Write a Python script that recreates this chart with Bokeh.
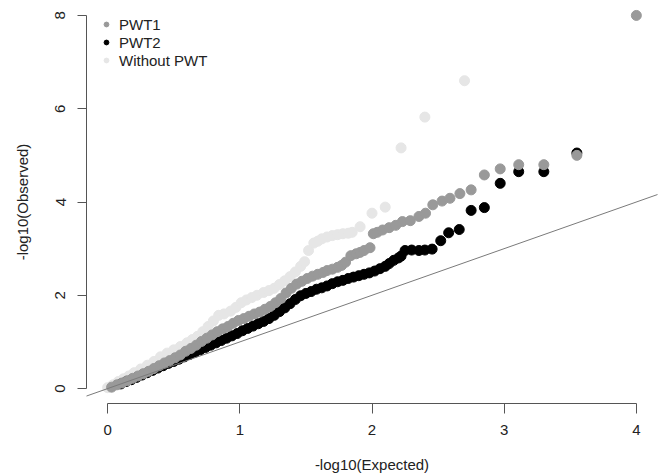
from bokeh.plotting import figure
from bokeh.models import Range1d, FixedTicker, Slope, Legend, LegendItem
from bokeh.embed import file_html
from bokeh.resources import INLINE

# ---------------- data ----------------
wo_x = [0.00, 0.04, 0.08, 0.12, 0.16, 0.20, 0.25, 0.30, 0.35, 0.40,
        0.45, 0.50, 0.55, 0.60, 0.64, 0.68, 0.72, 0.76, 0.80, 0.84,
        0.88, 0.93, 0.97, 1.01, 1.05, 1.09, 1.13, 1.18, 1.22, 1.26,
        1.30, 1.34, 1.38, 1.42, 1.46, 1.49, 1.52, 1.56, 1.59, 1.62,
        1.66, 1.70, 1.74, 1.78, 1.82, 1.85, 1.91, 2.00, 2.10, 2.22,
        2.40, 2.70]
wo_y = [0.02, 0.08, 0.15, 0.21, 0.27, 0.34, 0.42, 0.50, 0.58, 0.68,
        0.76, 0.83, 0.90, 0.98, 1.05, 1.12, 1.22, 1.33, 1.45, 1.57,
        1.60, 1.66, 1.74, 1.84, 1.90, 1.95, 2.00, 2.06, 2.10, 2.15,
        2.23, 2.31, 2.40, 2.50, 2.62, 2.72, 2.96, 3.12, 3.16, 3.21,
        3.25, 3.28, 3.30, 3.32, 3.33, 3.35, 3.47, 3.76, 3.89, 5.16,
        5.82, 6.60]

pwt1_x = [0.03, 0.07, 0.11, 0.15, 0.19, 0.23, 0.27, 0.31, 0.35, 0.39,
          0.43, 0.47, 0.51, 0.55, 0.59, 0.63, 0.67, 0.71, 0.75, 0.79,
          0.83, 0.87, 0.91, 0.95, 0.99, 1.03, 1.07, 1.11, 1.15, 1.19,
          1.23, 1.27, 1.31, 1.35, 1.39, 1.43, 1.47, 1.51, 1.55, 1.59,
          1.63, 1.66, 1.70, 1.74, 1.77, 1.80, 1.84, 1.88, 1.91, 1.94,
          1.985, 2.01, 2.04, 2.08, 2.13, 2.18, 2.23, 2.29, 2.355, 2.405,
          2.46, 2.53, 2.59, 2.665, 2.75, 2.85, 2.97, 3.11, 3.30, 3.55,
          4.00]
pwt1_y = [0.03, 0.08, 0.12, 0.17, 0.22, 0.27, 0.32, 0.37, 0.43, 0.49,
          0.55, 0.60, 0.66, 0.72, 0.80, 0.86, 0.93, 1.01, 1.08, 1.15,
          1.22, 1.28, 1.33, 1.40, 1.46, 1.50, 1.55, 1.60, 1.64, 1.70,
          1.76, 1.84, 1.93, 2.05, 2.15, 2.24, 2.30, 2.36, 2.41, 2.45,
          2.49, 2.53, 2.56, 2.60, 2.64, 2.71, 2.85, 2.89, 2.92, 2.96,
          3.02, 3.32, 3.35, 3.40, 3.45, 3.50, 3.58, 3.60, 3.69, 3.76,
          3.94, 4.02, 4.08, 4.18, 4.26, 4.58, 4.71, 4.80, 4.80, 5.00,
          8.00]

pwt2_x = [0.10, 0.14, 0.18, 0.22, 0.26, 0.30, 0.34, 0.38, 0.42, 0.46,
          0.50, 0.54, 0.58, 0.62, 0.66, 0.70, 0.74, 0.78, 0.82, 0.86,
          0.90, 0.94, 0.98, 1.02, 1.06, 1.10, 1.14, 1.18, 1.22, 1.26,
          1.30, 1.34, 1.38, 1.42, 1.46, 1.50, 1.54, 1.58, 1.62, 1.66,
          1.70, 1.74, 1.78, 1.82, 1.86, 1.90, 1.94, 1.98, 2.02, 2.06,
          2.10, 2.13, 2.165, 2.20, 2.22, 2.25, 2.30, 2.355, 2.40, 2.455,
          2.52, 2.58, 2.66, 2.75, 2.85, 2.97, 3.11, 3.30, 3.55]
pwt2_y = [0.10, 0.15, 0.19, 0.24, 0.29, 0.34, 0.39, 0.44, 0.49, 0.54,
          0.58, 0.63, 0.68, 0.73, 0.78, 0.83, 0.88, 0.93, 0.98, 1.03,
          1.08, 1.13, 1.18, 1.24, 1.29, 1.34, 1.39, 1.44, 1.50, 1.57,
          1.65, 1.73, 1.82, 1.91, 1.99, 2.04, 2.08, 2.13, 2.16, 2.20,
          2.25, 2.29, 2.32, 2.36, 2.39, 2.42, 2.45, 2.48, 2.52, 2.57,
          2.62, 2.68, 2.75, 2.80, 2.84, 2.96, 2.97, 2.96, 2.97, 2.99,
          3.17, 3.34, 3.41, 3.82, 3.88, 4.40, 4.65, 4.65, 5.05]

x_ticks = [0, 1, 2, 3, 4]
y_ticks = [0, 2, 4, 6, 8]
series_labels = ["PWT1", "PWT2", "Without PWT"]

# ---------------- styling ----------------
FONT = "Liberation Sans"
TXT = "#222222"
AX = "#555555"
C_PWT1 = "#999999"
C_PWT2 = "#000000"
C_WO = "#e6e6e6"

p = figure(width=662, height=476, output_backend="svg", toolbar_location=None,
           x_range=Range1d(-0.16, 4.16), y_range=Range1d(-0.32, 8.32),
           min_border_left=86, min_border_right=5, min_border_top=0,
           min_border_bottom=73)
p.outline_line_color = None
p.grid.visible = False
p.background_fill_color = "white"

# reference line y = x
p.add_layout(Slope(gradient=1, y_intercept=0, line_color="#7a7a7a", line_width=1))

r_wo = p.scatter(wo_x, wo_y, size=10, fill_color=C_WO, line_color=C_WO)
r_2 = p.scatter(pwt2_x, pwt2_y, size=10, fill_color=C_PWT2, line_color=C_PWT2)
r_1 = p.scatter(pwt1_x, pwt1_y, size=10, fill_color=C_PWT1, line_color=C_PWT1)

for ax in (p.xaxis, p.yaxis):
    ax.axis_line_color = AX
    ax.major_tick_line_color = AX
    ax.minor_tick_line_color = None
    ax.major_tick_in = 0
    ax.major_label_text_font = FONT
    ax.major_label_text_font_size = "15px"
    ax.major_label_text_color = TXT
    ax.axis_label_text_font = FONT
    ax.axis_label_text_font_size = "15px"
    ax.axis_label_text_font_style = "normal"
    ax.axis_label_text_color = TXT

p.xaxis.ticker = FixedTicker(ticks=x_ticks)
p.yaxis.ticker = FixedTicker(ticks=y_ticks)
p.xaxis.bounds = (x_ticks[0], x_ticks[-1])
p.yaxis.bounds = (y_ticks[0], y_ticks[-1])
p.xaxis.major_tick_out = 10
p.yaxis.major_tick_out = 9
p.xaxis.major_label_standoff = 11
p.yaxis.major_label_standoff = 12
p.yaxis.major_label_orientation = "parallel"
p.xaxis.axis_label = "-log10(Expected)"
p.yaxis.axis_label = "-log10(Observed)"
p.xaxis.axis_label_standoff = 18
p.yaxis.axis_label_standoff = 22

legend = Legend(items=[LegendItem(label=series_labels[0], renderers=[r_1]),
                       LegendItem(label=series_labels[1], renderers=[r_2]),
                       LegendItem(label=series_labels[2], renderers=[r_wo])],
                location=(14, 334), padding=0, margin=0, spacing=0,
                glyph_width=12, glyph_height=18, label_height=18,
                label_standoff=7, border_line_color=None,
                background_fill_alpha=0,
                label_text_font=FONT, label_text_font_size="15px",
                label_text_color=TXT)
p.add_layout(legend)

open("out.html", "w").write(file_html(p, INLINE))
